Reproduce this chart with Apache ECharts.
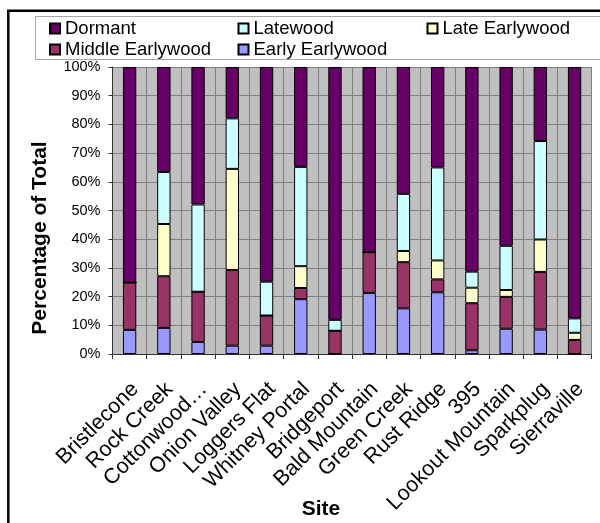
<!DOCTYPE html>
<html>
<head>
<meta charset="utf-8">
<script src="https://cdn.jsdelivr.net/npm/echarts@6/dist/echarts.min.js"></script>
<style>
  html, body { margin: 0; padding: 0; background: #fff; }
  #chart { width: 600px; height: 523px; }
</style>
</head>
<body>
<div id="chart"></div>
<script>
// Sites along the x axis
const sites = ['Bristlecone', 'Rock Creek', 'Cottonwood…', 'Onion Valley', 'Loggers Flat',
  'Whitney Portal', 'Bridgeport', 'Bald Mountain', 'Green Creek', 'Rust Ridge', '395',
  'Lookout Mountain', 'Sparkplug', 'Sierraville'];

// Share of total (%) per growth stage, stacked bottom to top
const earlyEarlywood  = [8.4, 9.1, 4.2, 2.9, 2.9, 19.1, 0, 21.3, 15.9, 21.5, 1.3, 8.8, 8.5, 0];
const middleEarlywood = [16.5, 18.0, 17.5, 26.4, 10.5, 3.9, 8.1, 14.2, 16.1, 4.5, 16.4, 11.1, 20.1, 4.9];
const lateEarlywood   = [0, 18.2, 0, 35.2, 0, 7.6, 0, 0, 3.9, 6.6, 5.4, 2.4, 11.3, 2.5];
const latewood        = [0, 18.1, 30.4, 17.6, 11.8, 34.6, 3.8, 0, 19.9, 32.4, 5.6, 15.4, 34.3, 5.0];
const dormant         = [75.1, 36.6, 47.9, 17.9, 74.8, 34.8, 88.1, 64.5, 44.2, 35.0, 71.3, 62.3, 25.8, 87.6];

// Y axis ticks
const yTicks = { min: 0, max: 100, step: 10 };

// Legend columns (left to right, top to bottom within each column)
const legendColumns = [
  ['Dormant', 'Middle Earlywood'],
  ['Latewood', 'Early Earlywood'],
  ['Late Earlywood']
];

const FONT = "'Liberation Sans', Arial, sans-serif";

const stages = [
  { name: 'Early Earlywood',  data: earlyEarlywood,  color: '#9999FF' },
  { name: 'Middle Earlywood', data: middleEarlywood, color: '#993366' },
  { name: 'Late Earlywood',   data: lateEarlywood,   color: '#FFFFCC' },
  { name: 'Latewood',         data: latewood,        color: '#CCFFFF' },
  { name: 'Dormant',          data: dormant,         color: '#660066' }
];

const legendLefts = [49, 237.5, 426.5];

const chart = echarts.init(document.getElementById('chart'));

chart.setOption({
  animation: false,
  backgroundColor: '#ffffff',
  textStyle: { fontFamily: FONT },
  graphic: [
    // outer chart frame
    { type: 'rect', silent: true, z: 0,
      shape: { x: 8.3, y: 10.7, width: 620, height: 540 },
      style: { fill: null, stroke: '#000', lineWidth: 2.5 } },
    // legend frame
    { type: 'rect', silent: true, z: 0,
      shape: { x: 35.5, y: 16.5, width: 600, height: 43 },
      style: { fill: '#fff', stroke: '#a6a6a6', lineWidth: 1 } },
    // axis titles
    { type: 'text', silent: true, z: 10,
      x: 40.5, y: 238, rotation: Math.PI / 2,
      style: { text: 'Percentage of Total', font: 'bold 21px ' + FONT,
        fill: '#000', textAlign: 'center', textVerticalAlign: 'middle' } },
    { type: 'text', silent: true, z: 10,
      x: 321, y: 509,
      style: { text: 'Site', font: 'bold 21px ' + FONT,
        fill: '#000', textAlign: 'center', textVerticalAlign: 'middle' } }
  ],
  legend: legendColumns.map((names, i) => ({
    data: names,
    left: legendLefts[i], top: 19,
    orient: 'vertical',
    itemWidth: 10, itemHeight: 10, itemGap: 2,
    icon: 'rect',
    padding: 0,
    textStyle: { fontSize: 18.5, color: '#000', fontFamily: FONT }
  })),
  grid: {
    left: 112.5, right: 8.3, top: 67, bottom: 169,
    show: true, backgroundColor: '#C0C0C0', borderWidth: 0
  },
  xAxis: {
    type: 'category',
    data: sites,
    boundaryGap: true,
    axisLine: { show: true, lineStyle: { color: '#333', width: 1 } },
    axisTick: { show: true, alignWithLabel: false, length: 5, lineStyle: { color: '#333' } },
    splitLine: { show: true, lineStyle: { color: '#808080', width: 1 } },
    axisLabel: {
      interval: 0, rotate: 45, align: 'right', verticalAlign: 'top', margin: 22,
      padding: [0, 3, 0, 0],
      fontSize: 21.5, color: '#000', fontFamily: FONT
    }
  },
  yAxis: {
    type: 'value',
    min: yTicks.min, max: yTicks.max, interval: yTicks.step,
    axisLine: { show: true, lineStyle: { color: '#333', width: 1 } },
    axisTick: { show: true, length: 4, lineStyle: { color: '#333' } },
    splitLine: { show: true, lineStyle: { color: '#808080', width: 1 } },
    axisLabel: { formatter: '{value}%', fontSize: 14.5, color: '#000', margin: 12, fontFamily: FONT }
  },
  series: stages.map(s => ({
    name: s.name,
    type: 'bar',
    stack: 'total',
    barWidth: '39%',
    data: s.data,
    itemStyle: { color: s.color, borderColor: '#000', borderWidth: 1 },
    emphasis: { disabled: true }
  }))
});
</script>
</body>
</html>
